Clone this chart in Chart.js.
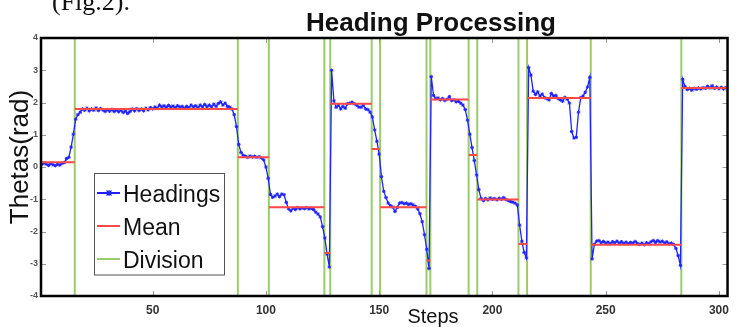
<!DOCTYPE html>
<html>
<head>
<meta charset="utf-8">
<script src="https://cdn.jsdelivr.net/npm/chart.js@4.4.1/dist/chart.umd.min.js"></script>
<style>
  html, body { margin: 0; padding: 0; background: #fff; }
</style>
</head>
<body>
<canvas id="chart" width="736" height="327"></canvas>
<script>
// Heading per step (step = index + 1)
const headings = [
  0.08, 0.12, 0.09, 0.05, 0.10, 0.07, 0.04, 0.09, 0.06, 0.11,
  0.14, 0.26, 0.30, 0.62, 1.02, 1.48, 1.62, 1.70, 1.80, 1.76,
  1.82, 1.74, 1.80, 1.76, 1.83, 1.75, 1.81, 1.77, 1.72, 1.78,
  1.73, 1.79, 1.72, 1.77, 1.71, 1.76, 1.69, 1.74, 1.66, 1.72,
  1.80, 1.74, 1.81, 1.75, 1.80, 1.74, 1.82, 1.77, 1.84, 1.80,
  1.86, 1.82, 1.92, 1.86, 1.90, 1.85, 1.91, 1.86, 1.89, 1.84,
  1.90, 1.86, 1.88, 1.82, 1.88, 1.84, 1.92, 1.86, 1.90, 1.84,
  1.92, 1.86, 1.94, 1.87, 1.92, 1.86, 1.95, 1.88, 1.97, 2.02,
  1.92, 1.98, 1.88, 1.86, 1.80, 1.62, 1.25, 0.70, 0.45, 0.36,
  0.33, 0.30, 0.34, 0.31, 0.33, 0.30, 0.32, 0.28, 0.22, 0.00,
  -0.35, -0.85, -0.94, -0.90, -0.84, -0.92, -0.84, -0.86, -1.10, -1.30,
  -1.36, -1.28, -1.32, -1.26, -1.30, -1.27, -1.29, -1.26, -1.30, -1.28,
  -1.32, -1.40, -1.46, -1.55, -1.85, -2.20, -2.70, -3.10, 3.00, 2.05,
  1.85, 1.92, 1.80, 1.88, 1.82, 1.96, 1.98, 2.01, 1.96, 1.92,
  1.86, 1.85, 1.92, 1.80, 1.78, 1.70, 1.55, 1.15, 0.80, 0.40,
  -0.30, -0.75, -0.95, -1.12, -1.20, -1.24, -1.38, -1.25, -1.12, -1.10,
  -1.14, -1.12, -1.16, -1.14, -1.18, -1.22, -1.30, -1.45, -1.70, -2.10,
  -2.55, -3.15, 2.80, 2.22, 2.12, 2.14, 2.08, 2.12, 2.06, 2.10,
  2.18, 2.06, 2.08, 2.02, 2.04, 1.98, 1.92, 1.78, 1.45, 1.02,
  0.60, 0.20, -0.25, -0.70, -0.98, -1.04, -0.98, -1.02, -0.96, -1.00,
  -0.98, -1.02, -0.97, -1.00, -0.95, -1.01, -1.04, -1.07, -1.09, -1.12,
  -1.18, -1.80, -2.30, -2.65, -2.82, 3.08, 2.85, 2.35, 2.25, 2.33,
  2.20, 2.26, 2.15, 2.12, 2.08, 2.28, 2.20, 2.22, 2.12, 2.08,
  2.04, 2.16, 2.10, 1.98, 1.10, 0.90, 0.92, 1.70, 2.15, 2.20,
  2.32, 2.48, 2.78, -2.85, -2.40, -2.30, -2.28, -2.35, -2.31, -2.36,
  -2.33, -2.38, -2.32, -2.35, -2.30, -2.36, -2.32, -2.37, -2.33, -2.38,
  -2.34, -2.36, -2.31, -2.37, -2.40, -2.36, -2.41, -2.35, -2.38, -2.32,
  -2.28, -2.34, -2.28, -2.33, -2.30, -2.36, -2.32, -2.38, -2.36, -2.40,
  -2.52, -2.75, -3.05, 2.72, 2.50, 2.40, 2.44, 2.38, 2.44, 2.41,
  2.45, 2.42, 2.46, 2.44, 2.50, 2.45, 2.52, 2.44, 2.48, 2.43,
  2.47, 2.42, 2.46
]

// Division positions (steps) and the mean of each segment between them
const divisions = [15.6, 87.6, 101.3, 125.8, 128.4, 146.7, 150.4, 170.9, 172.6, 189.5, 193.3, 211.5, 215.3, 243.4, 283.4]
const meanValues = [0.15, 1.80, 0.30, -1.25, -2.67, 1.96, 0.56, -1.25, -2.90, 2.09, 0.37, -1.01, -2.39, 2.14, -2.41, 2.45]
const firstStep = 1
const lastStep = 304

const xTicks = [50, 100, 150, 200, 250, 300]
const yTicks = [-4, -3, -2, -1, 0, 1, 2, 3, 4]
const legendLabels = ["Headings", "Mean", "Division"]

const BLUE = "#1f24ff"
const RED = "#ff4848"
const GREEN = "#9ccb6c"
const SANS = "'Liberation Sans', Arial, sans-serif"

// Build point lists for the library
const headingPoints = headings.map((v, i) => ({ x: i + 1, y: v }))

const bounds = [firstStep, ...divisions, lastStep]
const meanPoints = []
meanValues.forEach((m, i) => {
  meanPoints.push({ x: bounds[i], y: m }, { x: bounds[i + 1], y: m }, { x: bounds[i + 1], y: null })
})

const divisionPoints = []
divisions.forEach((d) => {
  divisionPoints.push({ x: d, y: yTicks[0] }, { x: d, y: yTicks[yTicks.length - 1] }, { x: d, y: null })
})

// Frame, inside tick marks, texts and legend
const decorations = {
  id: "decorations",
  afterDatasetsDraw(chart) {
    const { ctx, chartArea: a, scales } = chart
    ctx.save()
    // inside tick marks
    ctx.strokeStyle = "#9a9a9a"
    ctx.lineWidth = 1
    ctx.beginPath()
    xTicks.forEach((t) => {
      const px = Math.round(scales.x.getPixelForValue(t)) + 0.5
      ctx.moveTo(px, a.bottom); ctx.lineTo(px, a.bottom - 5)
      ctx.moveTo(px, a.top); ctx.lineTo(px, a.top + 5)
    })
    yTicks.forEach((t) => {
      const py = Math.round(scales.y.getPixelForValue(t)) + 0.5
      ctx.moveTo(a.left, py); ctx.lineTo(a.left + 5, py)
      ctx.moveTo(a.right, py); ctx.lineTo(a.right - 5, py)
    })
    ctx.stroke()
    // frame
    ctx.strokeStyle = "#000"
    ctx.lineWidth = 2.5
    ctx.strokeRect(a.left, a.top, a.right - a.left, a.bottom - a.top)
    ctx.restore()
  },
  afterDraw(chart) {
    const { ctx } = chart
    ctx.save()
    ctx.fillStyle = "#111"
    ctx.textBaseline = "alphabetic"

    // cropped caption above the figure
    ctx.font = "26px 'Liberation Serif', serif"
    ctx.textAlign = "left"
    ctx.fillText("(Fig.2).", 52, 10)

    // title
    ctx.font = "bold 26px " + SANS
    ctx.textAlign = "center"
    ctx.fillText("Heading Processing", 431, 31)

    // axis titles
    ctx.font = "20px " + SANS
    ctx.fillText("Steps", 433, 323)
    ctx.save()
    ctx.translate(28, 157)
    ctx.rotate(-Math.PI / 2)
    ctx.font = "26px " + SANS
    ctx.fillText("Thetas(rad)", 0, 0)
    ctx.restore()

    // legend
    ctx.fillStyle = "#fff"
    ctx.fillRect(94.5, 173.5, 130, 101.5)
    ctx.strokeStyle = "#555"
    ctx.lineWidth = 1
    ctx.strokeRect(94.5, 173.5, 130, 101.5)
    const colors = [BLUE, RED, GREEN]
    ctx.font = "23px " + SANS
    ctx.textAlign = "left"
    legendLabels.forEach((label, i) => {
      const yMid = 193 + i * 33
      ctx.strokeStyle = colors[i]
      ctx.lineWidth = 2
      ctx.beginPath()
      ctx.moveTo(97, yMid); ctx.lineTo(120, yMid)
      ctx.stroke()
      if (i === 0) {
        ctx.lineWidth = 1.2
        ctx.beginPath()
        ctx.moveTo(106.5, yMid - 2.5); ctx.lineTo(111.5, yMid + 2.5)
        ctx.moveTo(106.5, yMid + 2.5); ctx.lineTo(111.5, yMid - 2.5)
        ctx.moveTo(109, yMid - 3); ctx.lineTo(109, yMid + 3)
        ctx.stroke()
      }
      ctx.fillStyle = "#111"
      ctx.fillText(label, 123, yMid + 8.5)
    })
    ctx.restore()
  }
}

new Chart(document.getElementById("chart"), {
  type: "line",
  data: {
    datasets: [
      {
        label: "Mean",
        data: meanPoints,
        borderColor: RED,
        borderWidth: 2,
        pointRadius: 0,
        spanGaps: false,
        order: 0
      },
      {
        label: "Headings",
        data: headingPoints,
        borderColor: BLUE,
        backgroundColor: BLUE,
        borderWidth: 1.3,
        pointStyle: "star",
        pointRadius: 1.8,
        pointBorderWidth: 1,
        pointBorderColor: BLUE,
        tension: 0,
        order: 1
      },
      {
        label: "Division",
        data: divisionPoints,
        borderColor: GREEN,
        borderWidth: 2,
        pointRadius: 0,
        spanGaps: false,
        order: 2
      }
    ]
  },
  options: {
    responsive: false,
    animation: false,
    events: [],
    layout: { padding: { top: 38, right: 5, left: 0, bottom: 0 } },
    plugins: {
      legend: { display: false },
      title: { display: false },
      tooltip: { enabled: false }
    },
    scales: {
      x: {
        type: "linear",
        min: 0.7,
        max: 303.8,
        grid: { display: false, drawTicks: false },
        border: { display: false },
        afterBuildTicks: (s) => { s.ticks = xTicks.map((v) => ({ value: v })) },
        afterFit: (s) => { s.height = 31 },
        ticks: {
          autoSkip: false,
          maxRotation: 0,
          padding: 7,
          color: "#333",
          font: { family: SANS, size: 12, weight: "bold" }
        }
      },
      y: {
        type: "linear",
        min: -4,
        max: 4,
        grid: { display: false, drawTicks: false },
        border: { display: false },
        afterBuildTicks: (s) => { s.ticks = yTicks.map((v) => ({ value: v })) },
        afterFit: (s) => { s.width = 41 },
        ticks: {
          padding: 3,
          color: "#555",
          font: { family: SANS, size: 9, weight: "bold" }
        }
      }
    }
  },
  plugins: [decorations]
})
</script>
</body>
</html>
